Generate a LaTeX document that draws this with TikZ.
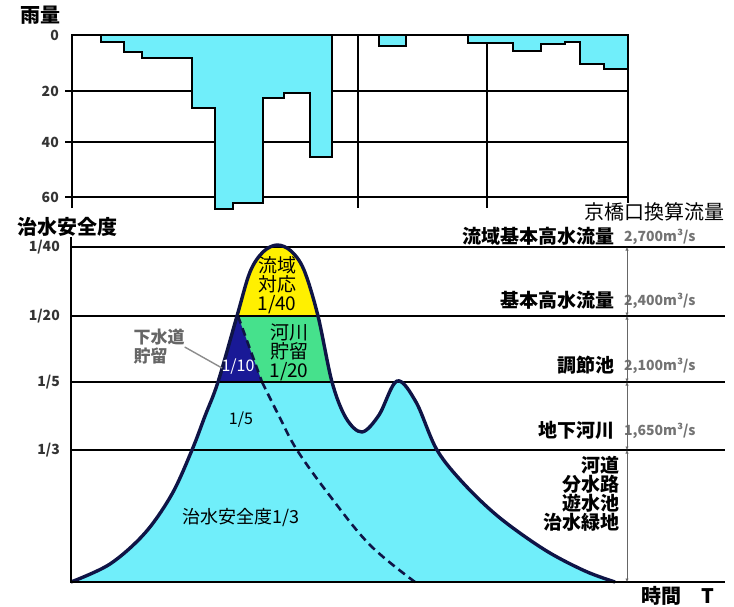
\documentclass[tikz,border=0pt]{standalone}
\usepackage{fontspec}
\setmainfont{Noto Sans CJK JP}
\usetikzlibrary{arrows.meta}
\definecolor{rain}{RGB}{112,238,250}
\definecolor{basin}{RGB}{255,240,0}
\definecolor{river}{RGB}{70,225,140}
\definecolor{sewer}{RGB}{25,25,150}
\definecolor{edge}{RGB}{15,20,70}
\tikzset{frame/.style={line width=2pt}}
\tikzset{grid/.style={line width=1.5pt}}
\tikzset{bar/.style={draw, line width=1.4pt, fill=rain}}
\tikzset{hydro/.style={draw=edge, line width=3.4pt, line join=round}}
\tikzset{split/.style={draw=edge, line width=2.6pt, dash pattern=on 8pt off 5pt}}
\tikzset{title/.style={font=\bfseries\fontsize{20}{22}\selectfont, inner sep=0pt}}
\tikzset{ylab/.style={anchor=east, font=\bfseries\fontsize{14}{16}\selectfont, text=black!80, inner sep=0pt}}
\tikzset{measure/.style={anchor=east, align=right, font=\bfseries\fontsize{19}{17}\selectfont, inner sep=0pt}}
\tikzset{flow/.style={anchor=west, font=\bfseries\fontsize{14}{16}\selectfont, text=black!55, inner sep=0pt}}
\tikzset{area/.style={align=center, font=\fontsize{19}{19}\selectfont, inner sep=0pt}}
\tikzset{flowspan/.style={draw=black!60, line width=0.9pt, {Latex[length=3.5pt,width=3.5pt]}-{Latex[length=3.5pt,width=3.5pt]}}}
\newcommand{\hydropath}{plot[smooth, tension=0.55] coordinates {(71,582) (110,564) (145,533) (172,494) (192,450) (205,416) (218,382) (237,316) (250,272) (263,252) (277,245) (291,251) (304,270) (318,316) (332,382) (346,418) (362,432) (379,415) (397,381) (416,402) (437,450) (465,485) (500,518) (545,550) (585,571) (615,582)}}

\begin{document}
\begin{tikzpicture}[x=1pt,y=-1pt]
\useasboundingbox (0,0) rectangle (734,607);

% rainfall
\node[title] (rainlab) at (40,15) {雨量};
\foreach \v/\y in {0/35,20/91,40/142,60/197}
  \node[ylab] (r\v) at (59,\y) {\v};
\foreach \y in {91,142,197}
  \draw[grid] (65,\y) -- (628,\y);
\draw[grid] (358,35) -- (358,208);
\draw[grid] (487,35) -- (487,208);
\draw[bar] (101,35) |- (124,42) |- (142,52) |- (192,58) |- (215,108) |- (233,209) |- (263,203) |- (284,98) |- (310,93) |- (332,157) -- (332,35) -- cycle;
\draw[bar] (379,35) rectangle (406,46);
\draw[bar] (468,35) |- (513,43) |- (541,51) |- (565,44) |- (580,42) |- (604,64) |- (628,69) -- (628,35) -- cycle;
\draw[frame] (72,208) -- (72,35) -- (628,35) -- (628,203);

% flood safety
\node[title] (safety) at (67,227) {治水安全度};
\foreach \n/\y in {40/247,20/316,5/382,3/450}
  \node[ylab] (s\n) at (60,\y) {1/\n};
\fill[rain] \hydropath -- cycle;
\begin{scope}
  \clip \hydropath -- cycle;
  \fill[basin] (71,200) rectangle (725,316);
  \fill[river] (71,316) rectangle (725,382);
  \fill[sewer] (150,316) -- (238,316) -- (262,382) -- (150,382) -- cycle;
\end{scope}
\draw[split] (238,316) -- (262,382) plot[smooth, tension=0.6] coordinates {(262,382) (279,416) (297,450) (330,496) (370,545) (415,582)};
\foreach \y in {247,316,382,450}
  \draw[grid] (71,\y) -- (725,\y);
\draw[hydro] \hydropath;
\draw[frame] (71,237) -- (71,582) -- (725,582);

\node[area] (basinlab) at (277,285) {流域\\対応\\1/40};
\node[area] (riverlab) at (289,352) {河川\\貯留\\1/20};
\node[area, text=white, font=\fontsize{16}{17}\selectfont] (sewerlab) at (238,367) {1/10};
\node[area, font=\fontsize{16}{17}\selectfont] (rest5) at (241,420) {1/5};
\node[area, font=\fontsize{18}{19}\selectfont] (rest3) at (241,518) {治水安全度1/3};
\node[align=left, font=\bfseries\fontsize{17}{19}\selectfont, text=black!60, inner sep=0pt] (sewernote) at (159,347) {下水道\\貯留};
\coordinate (sewertip) at (222,368);
\draw[black!45, line width=1.4pt] (sewernote.east) -- (sewertip);

% right scale
\node[anchor=east, font=\fontsize{20}{22}\selectfont, inner sep=0pt] (kyobashi) at (725,212) {京橋口換算流量};
\node[measure] (m1) at (615,236) {流域基本高水流量};
\node[flow] (f1) at (624,237) {2,700m³/s};
\node[measure] (m2) at (615,300) {基本高水流量};
\node[flow] (f2) at (624,301) {2,400m³/s};
\node[measure] (m3) at (615,365) {調節池};
\node[flow] (f3) at (624,366) {2,100m³/s};
\node[measure] (m4) at (615,430) {地下河川};
\node[flow] (f4) at (624,431) {1,650m³/s};
\node[measure] (m5) at (620,494) {河道\\分水路\\遊水池\\治水緑地};
\coordinate (q1) at (627,247);
\coordinate (q2) at (627,316);
\coordinate (q3) at (627,382);
\coordinate (q4) at (627,450);
\coordinate (q5) at (627,582);
\draw[flowspan] (q1) -- (q2);
\draw[flowspan] (q2) -- (q3);
\draw[flowspan] (q3) -- (q4);
\draw[flowspan] (q4) -- (q5);
\node[title, anchor=west] (timelab) at (641,596) {時間\quad T};
\end{tikzpicture}
\end{document}
